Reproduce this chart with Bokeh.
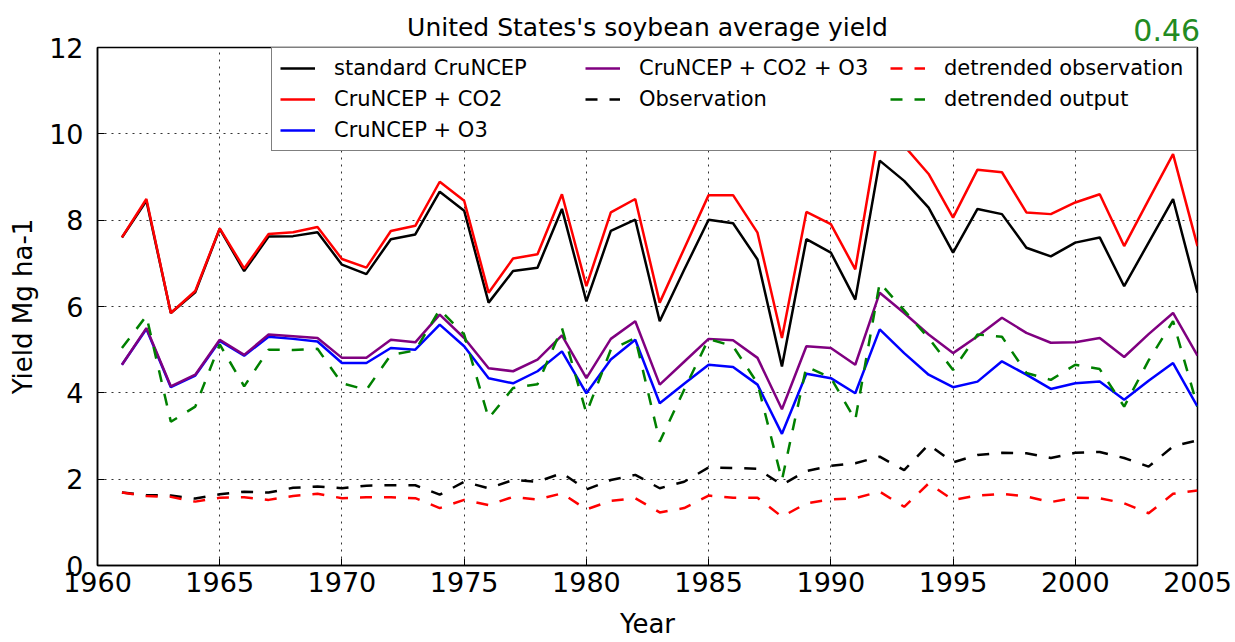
from bokeh.plotting import figure
from bokeh.models import Legend, LegendItem, LinearAxis, FixedTicker, Range1d
from bokeh.embed import file_html
from bokeh.resources import INLINE

years = list(range(1961, 2006))

standard_cruncep = [7.60, 8.45, 5.85, 6.33, 7.80, 6.82, 7.62, 7.63, 7.72, 6.97,
                    6.75, 7.56, 7.67, 8.66, 8.22, 6.09, 6.82, 6.90, 8.26, 6.12,
                    7.75, 8.01, 5.66, 6.85, 8.01, 7.93, 7.09, 4.61, 7.56, 7.25,
                    6.16, 9.38, 8.91, 8.29, 7.25, 8.26, 8.14, 7.36, 7.16, 7.48,
                    7.60, 6.47, 7.48, 8.49, 6.32]
cruncep_co2 = [7.60, 8.49, 5.85, 6.36, 7.81, 6.88, 7.68, 7.72, 7.84, 7.10,
               6.90, 7.75, 7.87, 8.89, 8.45, 6.32, 7.11, 7.21, 8.60, 6.47,
               8.18, 8.49, 6.09, 7.34, 8.58, 8.58, 7.71, 5.27, 8.19, 7.91,
               6.86, 10.2, 9.72, 9.07, 8.06, 9.17, 9.11, 8.18, 8.14, 8.41,
               8.60, 7.40, 8.47, 9.53, 7.40]
cruncep_o3 = [4.65, 5.48, 4.13, 4.40, 5.20, 4.86, 5.30, 5.25, 5.19, 4.69,
              4.69, 5.04, 5.00, 5.58, 5.08, 4.34, 4.22, 4.50, 4.96, 3.99,
              4.77, 5.23, 3.76, 4.21, 4.65, 4.60, 4.19, 3.05, 4.44, 4.34,
              3.99, 5.47, 4.92, 4.42, 4.13, 4.26, 4.73, 4.42, 4.09, 4.22,
              4.26, 3.84, 4.28, 4.69, 3.68]
cruncep_co2_o3 = [4.65, 5.50, 4.15, 4.42, 5.23, 4.88, 5.35, 5.31, 5.27, 4.81,
                  4.81, 5.23, 5.17, 5.81, 5.27, 4.57, 4.50, 4.77, 5.33, 4.34,
                  5.25, 5.66, 4.19, 4.72, 5.25, 5.22, 4.81, 3.62, 5.08, 5.04,
                  4.65, 6.32, 5.85, 5.35, 4.92, 5.31, 5.74, 5.39, 5.16, 5.17,
                  5.27, 4.83, 5.36, 5.85, 4.86]
observation = [1.69, 1.63, 1.62, 1.55, 1.65, 1.71, 1.69, 1.80, 1.83, 1.79,
               1.85, 1.86, 1.86, 1.64, 1.94, 1.79, 1.98, 1.94, 2.14, 1.76,
               1.98, 2.10, 1.79, 1.94, 2.27, 2.26, 2.24, 1.87, 2.19, 2.31,
               2.37, 2.52, 2.21, 2.80, 2.39, 2.56, 2.61, 2.60, 2.49, 2.61,
               2.63, 2.49, 2.29, 2.76, 2.90]
detrended_observation = [1.69, 1.61, 1.59, 1.48, 1.57, 1.58, 1.52, 1.61, 1.66, 1.56,
                         1.58, 1.58, 1.56, 1.33, 1.52, 1.40, 1.59, 1.53, 1.67, 1.30,
                         1.50, 1.56, 1.23, 1.33, 1.62, 1.57, 1.57, 1.13, 1.44, 1.53,
                         1.56, 1.71, 1.36, 1.90, 1.52, 1.62, 1.66, 1.60, 1.47, 1.57,
                         1.56, 1.44, 1.21, 1.66, 1.74]
detrended_output = [5.04, 5.78, 3.33, 3.68, 5.12, 4.15, 5.00, 4.99, 5.02, 4.22,
                    4.07, 4.88, 4.98, 5.93, 5.35, 3.41, 4.11, 4.20, 5.50, 3.53,
                    5.00, 5.27, 2.87, 4.07, 5.25, 5.08, 4.22, 1.98, 4.61, 4.35,
                    3.37, 6.55, 5.91, 5.27, 4.53, 5.35, 5.30, 4.46, 4.30, 4.65,
                    4.55, 3.68, 4.75, 5.66, 3.68]

x_ticks = [1960, 1965, 1970, 1975, 1980, 1985, 1990, 1995, 2000, 2005]
y_ticks = [0, 2, 4, 6, 8, 10, 12]
title_text = "United States's soybean average yield"
corr_text = "0.46"

FONT = "DejaVu Sans"

p = figure(width=1235, height=642, output_backend="svg", toolbar_location=None,
           x_range=Range1d(1960, 2005), y_range=Range1d(0, 12),
           min_border_left=97, min_border_right=38, min_border_top=47, min_border_bottom=77)
p.background_fill_color = "white"
p.border_fill_color = "white"
p.outline_line_color = "black"
p.outline_line_width = 1.5

for ax in (p.xaxis[0], p.yaxis[0]):
    ax.major_tick_in = 7
    ax.major_tick_out = 0
    ax.minor_tick_line_color = None
    ax.axis_line_color = "black"
    ax.axis_line_width = 1.5
    ax.major_label_text_font = FONT
    ax.major_label_text_font_size = "27px"
    ax.major_label_text_color = "black"
    ax.axis_label_text_font = FONT
    ax.axis_label_text_font_size = "26px"
    ax.axis_label_text_font_style = "normal"
    ax.axis_label_text_color = "black"

p.xaxis.ticker = FixedTicker(ticks=x_ticks)
p.yaxis.ticker = FixedTicker(ticks=y_ticks)
p.xaxis.axis_label = "Year"
p.yaxis.axis_label = "Yield Mg ha-1"
p.xaxis.major_label_standoff = 6
p.yaxis.major_label_standoff = 14
p.xaxis.axis_label_standoff = 14
p.yaxis.axis_label_standoff = 8

# header line: title (centred, as axis label) and the correlation value (top right)
p.extra_x_ranges = {"header": Range1d(0, 1000)}
header = LinearAxis(x_range_name="header", ticker=FixedTicker(ticks=[972]),
                    major_label_overrides={972: corr_text},
                    axis_label=title_text,
                    axis_line_color=None, major_tick_line_color=None,
                    minor_tick_line_color=None, major_tick_in=0, major_tick_out=0,
                    major_label_standoff=7,
                    major_label_text_font=FONT, major_label_text_font_size="30px",
                    major_label_text_color="#228b22",
                    axis_label_text_font=FONT, axis_label_text_font_size="25px",
                    axis_label_text_font_style="normal", axis_label_text_color="black",
                    axis_label_standoff=-26)
p.add_layout(header, "above")

for g in (p.xgrid[0], p.ygrid[0]):
    g.grid_line_color = "black"
    g.grid_line_dash = "2 5"
    g.grid_line_width = 1
    g.grid_line_alpha = 0.8
p.xgrid.ticker = FixedTicker(ticks=x_ticks)
p.ygrid.ticker = FixedTicker(ticks=y_ticks)

LW = 2.5
r1 = p.line(years, standard_cruncep, line_color="black", line_width=LW)
r2 = p.line(years, cruncep_co2, line_color="#ff0000", line_width=LW)
r3 = p.line(years, cruncep_o3, line_color="#0000ff", line_width=LW)
r4 = p.line(years, cruncep_co2_o3, line_color="#800080", line_width=LW)
r5 = p.line(years, observation, line_color="black", line_width=LW, line_dash="12 12")
r6 = p.line(years, detrended_observation, line_color="#ff0000", line_width=LW, line_dash="12 12")
r7 = p.line(years, detrended_output, line_color="#008000", line_width=LW, line_dash="12 12")

# row-major order reproduces the reference's 3-column layout
legend = Legend(items=[
    LegendItem(label="standard CruNCEP", renderers=[r1]),
    LegendItem(label="CruNCEP + CO2 + O3", renderers=[r4]),
    LegendItem(label="detrended observation", renderers=[r6]),
    LegendItem(label="CruNCEP + CO2", renderers=[r2]),
    LegendItem(label="Observation", renderers=[r5]),
    LegendItem(label="detrended output", renderers=[r7]),
    LegendItem(label="CruNCEP + O3", renderers=[r3]),
], location="top_right", orientation="horizontal", ncols=3)
legend.label_text_font = FONT
legend.label_text_font_size = "21px"
legend.label_text_color = "black"
legend.glyph_width = 35
legend.glyph_height = 24
legend.label_height = 24
legend.label_width = 244
legend.label_standoff = 19
legend.spacing = 7
legend.padding = 8
legend.margin = 0
legend.border_line_color = "black"
legend.border_line_width = 1.5
legend.background_fill_color = "white"
legend.background_fill_alpha = 1
p.add_layout(legend, "center")

open("out.html", "w").write(file_html(p, INLINE))
